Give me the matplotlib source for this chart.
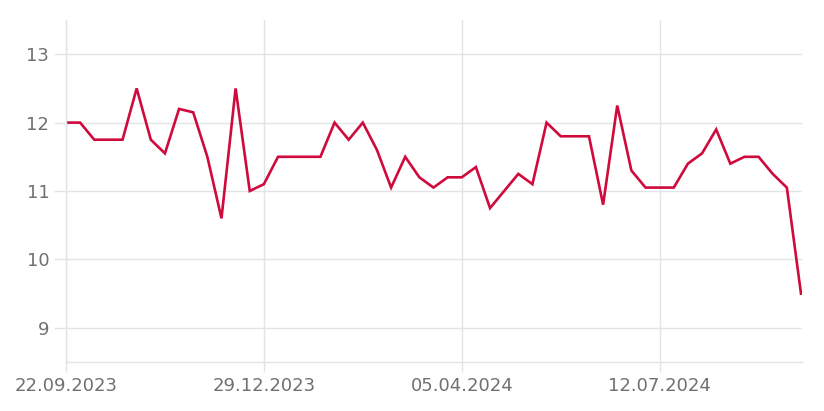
import matplotlib
matplotlib.use("Agg")
import matplotlib.pyplot as plt
import pandas as pd

# Weekly values, 22.09.2023 .. 20.09.2024
start = "2023-09-22"
values = [12.0, 12.0, 11.75, 11.75, 11.75, 12.5, 11.75, 11.55, 12.2, 12.15,
          11.5, 10.6, 12.5, 11.0, 11.1, 11.5, 11.5, 11.5, 11.5, 12.0,
          11.75, 12.0, 11.6, 11.05, 11.5, 11.2, 11.05, 11.2, 11.2, 11.35,
          10.75, 11.0, 11.25, 11.1, 12.0, 11.8, 11.8, 11.8, 10.8, 12.25,
          11.3, 11.05, 11.05, 11.05, 11.4, 11.55, 11.9, 11.4, 11.5, 11.5,
          11.25, 11.05, 9.5]
dates = pd.date_range(start, periods=len(values), freq="7D")
xtick_labels = ["22.09.2023", "29.12.2023", "05.04.2024", "12.07.2024"]
yticks = [9, 10, 11, 12, 13]

grid_c = "#e1e4e8"
text_c = "#707070"

plt.rcParams["font.family"] = ["DejaVu Sans"]

fig = plt.figure(figsize=(8.24, 4.11), dpi=100)
ax = fig.add_axes([66 / 824, 1 - 362 / 411, (802 - 66) / 824, (362 - 20) / 411])

ax.plot(dates, values, color="#cf0a3c", linewidth=1.9, solid_joinstyle="miter")

xt = pd.to_datetime(xtick_labels, format="%d.%m.%Y")
ax.set_xticks(xt)
ax.set_xticklabels(xtick_labels)
ax.set_yticks(yticks)
ax.set_xlim(dates[0], dates[-1] + pd.Timedelta(days=0.5))
ax.set_ylim(8.5, 13.5)

ax.grid(True, color=grid_c, linewidth=1)
ax.set_axisbelow(True)
for s in ["top", "right"]:
    ax.spines[s].set_visible(False)
for s in ["left", "bottom"]:
    ax.spines[s].set_color(grid_c)
    ax.spines[s].set_linewidth(1)

ax.tick_params(axis="x", length=7.5, width=1, color=grid_c, labelcolor=text_c,
               labelsize=13, pad=3)
ax.tick_params(axis="y", length=9, width=1, color=grid_c, labelcolor=text_c,
               labelsize=13, pad=3)

fig.savefig("out.png", dpi=100)
